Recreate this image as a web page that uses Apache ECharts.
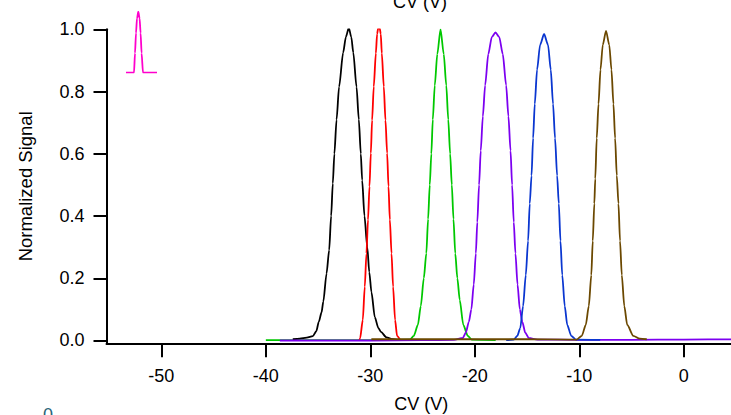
<!DOCTYPE html>
<html><head><meta charset="utf-8">
<script src="https://cdn.jsdelivr.net/npm/echarts@6/dist/echarts.min.js"></script>
<style>html,body{margin:0;padding:0;background:#fff;overflow:hidden}#c{width:731px;height:415px}</style>
</head><body><div id="c"></div>
<script>
// ---- data ----
const xTickValues = [-50, -40, -30, -20, -10, 0];
const yTickValues = [0, 0.2, 0.4, 0.6, 0.8, 1.0];
const xTitle = 'CV (V)';
const yTitle = 'Normalized Signal';

const greenData = [[-40,0.001],[-35,0.001],[-30,0.001],[-26.22,0.003],[-25.84,0.015],[-25.45,0.05],[-25.17,0.11],[-24.88,0.2],[-24.64,0.28],[-24.47,0.39],[-24.31,0.5],[-24.16,0.6],[-24.02,0.71],[-23.83,0.82],[-23.59,0.92],[-23.28,1.0],[-22.97,0.92],[-22.73,0.82],[-22.54,0.71],[-22.36,0.6],[-22.2,0.5],[-22.04,0.39],[-21.87,0.28],[-21.67,0.2],[-21.44,0.13],[-21.1,0.05],[-20.67,0.015],[-20.29,0.003],[-18,0.001]];

const blackData = [[-37.42,0.004],[-36.75,0.006],[-36.08,0.009],[-35.5,0.014],[-35.17,0.03],[-34.93,0.06],[-34.67,0.09],[-34.5,0.125],[-34.19,0.215],[-33.94,0.29],[-33.75,0.4],[-33.59,0.505],[-33.44,0.6],[-33.23,0.71],[-32.99,0.815],[-32.6,0.925],[-32.34,0.975],[-32.06,1.005],[-31.82,0.975],[-31.63,0.925],[-31.32,0.815],[-31.1,0.71],[-30.91,0.6],[-30.78,0.515],[-30.56,0.4],[-30.29,0.3],[-30.1,0.22],[-29.89,0.155],[-29.57,0.075],[-29.23,0.04],[-28.99,0.028],[-28.45,0.01],[-27.85,0.004],[-27.18,0.002],[-26,0.002]];

const redData = [[-31.05,0.0],[-30.98,0.007],[-30.72,0.066],[-30.53,0.173],[-30.37,0.28],[-30.22,0.388],[-30.08,0.495],[-29.95,0.602],[-29.83,0.708],[-29.67,0.816],[-29.47,0.923],[-29.35,0.985],[-29.25,1.003],[-29.1,1.003],[-29.0,0.985],[-28.9,0.923],[-28.71,0.816],[-28.55,0.708],[-28.39,0.602],[-28.26,0.495],[-28.13,0.388],[-27.97,0.28],[-27.82,0.173],[-27.63,0.066],[-27.44,0.015],[-27.18,0.004]];

const purpleData = [[-38.66,0.0],[-34,0.0],[-30,0.0],[-25,0.001],[-22,0.002],[-21.15,0.008],[-20.86,0.025],[-20.57,0.06],[-20.33,0.1],[-20.1,0.18],[-19.9,0.28],[-19.76,0.38],[-19.59,0.5],[-19.43,0.61],[-19.23,0.72],[-19.01,0.82],[-18.71,0.92],[-18.37,0.975],[-18.02,0.99],[-17.66,0.975],[-17.32,0.92],[-17.0,0.82],[-16.78,0.72],[-16.58,0.61],[-16.43,0.5],[-16.27,0.38],[-16.11,0.28],[-15.91,0.18],[-15.69,0.1],[-15.45,0.06],[-15.17,0.025],[-14.83,0.008],[-14,0.003],[-10,0.002],[-5,0.002],[0,0.003],[5,0.004]];

const blueData = [[-17,0.001],[-16.27,0.003],[-15.93,0.015],[-15.65,0.04],[-15.38,0.11],[-15.12,0.21],[-14.9,0.32],[-14.74,0.44],[-14.57,0.53],[-14.42,0.65],[-14.26,0.76],[-14.04,0.87],[-13.75,0.95],[-13.37,0.985],[-12.99,0.95],[-12.73,0.87],[-12.51,0.76],[-12.32,0.65],[-12.12,0.53],[-11.96,0.44],[-11.8,0.32],[-11.63,0.21],[-11.39,0.11],[-11.15,0.05],[-10.77,0.015],[-10.33,0.003],[-8,0.002]];

const brownData = [[-29.9,0.004],[-25,0.004],[-20,0.004],[-15,0.004],[-11,0.003],[-10.24,0.003],[-9.76,0.015],[-9.38,0.05],[-9.09,0.11],[-8.85,0.21],[-8.71,0.32],[-8.56,0.44],[-8.47,0.52],[-8.33,0.65],[-8.16,0.76],[-7.97,0.87],[-7.75,0.95],[-7.44,0.995],[-7.13,0.95],[-6.92,0.87],[-6.73,0.76],[-6.57,0.65],[-6.41,0.53],[-6.25,0.44],[-6.1,0.32],[-5.93,0.21],[-5.69,0.11],[-5.41,0.05],[-4.83,0.015],[-4.21,0.006],[-3.54,0.004]];

// small pink peak sample (inset, its own unit axes)
const pinkData = [[0,0],[8,0],[9,0.32],[10,0.65],[11,0.89],[12.3,1],[13.6,0.89],[14.6,0.65],[15.6,0.32],[17,0],[31,0]];

const FONT = "'Liberation Sans', Arial, Helvetica, sans-serif";
const chart = echarts.init(document.getElementById('c'), null, {renderer: 'svg'});

function line(name, data, color, xi) {
  return {
    name, type: 'line', data, xAxisIndex: xi || 0, yAxisIndex: xi || 0,
    showSymbol: false, symbol: 'none', smooth: 0.25, smoothMonotone: 'x',
    lineStyle: {color, width: 1.8}, itemStyle: {color}, silent: true, animation: false
  };
}

chart.setOption({
  animation: false,
  backgroundColor: '#ffffff',
  grid: [
    {left: 106.5, right: -5, top: 29.3, bottom: 71.7, outerBoundsMode: 'none', containLabel: false},
    {left: 126, top: 11.7, width: 31, height: 61, outerBoundsMode: 'none', containLabel: false}
  ],
  xAxis: [{
    type: 'value', min: -55.25, max: 5,
    name: xTitle, nameLocation: 'middle', nameGap: 52,
    nameTextStyle: {fontFamily: FONT, fontSize: 18, color: '#000'},
    axisLine: {show: true, onZero: false, lineStyle: {color: '#000', width: 2}},
    axisTick: {show: true, length: 14, lineStyle: {color: '#000', width: 2}, customValues: xTickValues},
    axisLabel: {fontFamily: FONT, fontSize: 18, color: '#000', margin: 24, customValues: xTickValues,
      formatter: v => String(Math.round(v))},
    splitLine: {show: false}
  }, {
    gridIndex: 1, type: 'value', min: 0, max: 31, show: false
  }],
  yAxis: [{
    type: 'value', min: -0.009, max: 1.0,
    name: yTitle, nameLocation: 'middle', nameGap: 72,
    nameTextStyle: {fontFamily: FONT, fontSize: 18.5, color: '#000'},
    axisLine: {show: true, onZero: false, lineStyle: {color: '#000', width: 2}},
    axisTick: {show: true, length: 13, lineStyle: {color: '#000', width: 2}, customValues: yTickValues},
    axisLabel: {fontFamily: FONT, fontSize: 18, color: '#000', margin: 22, customValues: yTickValues,
      formatter: v => v.toFixed(1)},
    splitLine: {show: false}
  }, {
    gridIndex: 1, type: 'value', min: 0, max: 1, show: false
  }],
  series: [
    line('green', greenData, '#00c800'),
    line('black', blackData, '#000000'),
    line('red', redData, '#ff0000'),
    line('purple', purpleData, '#7c00f0'),
    line('blue', blueData, '#0a36d0'),
    line('brown', brownData, '#6b4800'),
    line('pink', pinkData, '#ff00cc', 1)
  ],
  graphic: [
    {type: 'text', x: 420, y: 2, silent: true,
     style: {text: xTitle, font: '18px ' + FONT, fill: '#000', align: 'center', verticalAlign: 'middle'}},
    {type: 'text', x: 48, y: 406, silent: true,
     style: {text: '0', font: '18px ' + FONT, fill: '#2a6478', align: 'center', verticalAlign: 'top'}}
  ]
});
</script>
</body></html>
